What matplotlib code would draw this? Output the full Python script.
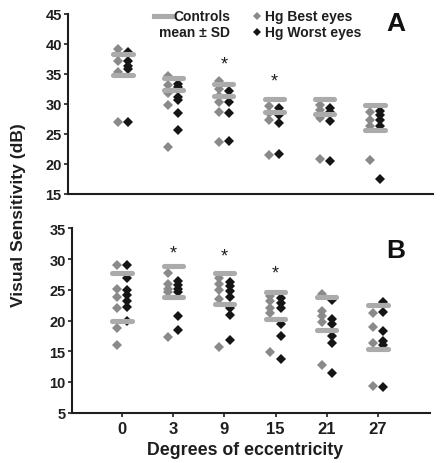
import matplotlib
matplotlib.use("Agg")
import matplotlib.pyplot as plt
from matplotlib.lines import Line2D

plt.rcParams['font.family'] = ['Liberation Sans', 'DejaVu Sans']
plt.rcParams['font.weight'] = 'bold'

categories = ["0", "3", "9", "15", "21", "27"]

# Panel A
best_A = [
    [39.2, 38.3, 37.1, 35.4, 27.0],
    [34.6, 33.2, 31.9, 29.8, 22.8],
    [33.8, 32.5, 31.4, 30.4, 28.6, 23.6],
    [29.7, 28.5, 27.4, 21.5],
    [29.8, 29.0, 27.6, 20.8],
    [28.6, 27.4, 26.3, 20.6],
]
worst_A = [
    [38.7, 37.1, 36.4, 35.8, 27.0],
    [33.4, 32.8, 31.2, 30.7, 28.5, 25.7],
    [32.2, 30.4, 28.5, 23.9],
    [29.4, 28.2, 26.9, 21.6],
    [29.4, 28.6, 27.1, 20.5],
    [28.9, 28.2, 27.4, 26.4, 17.5],
]
ctrl_hi_A = [38.3, 34.3, 33.3, 30.9, 30.8, 29.8]
ctrl_lo_A = [34.9, 32.3, 31.4, 28.6, 28.3, 25.7]
star_cols_A = [2, 3]
star_y_A = [36.7, 33.8]

# Panel B
best_B = [
    [29.0, 25.1, 23.9, 22.0, 18.8, 16.0],
    [27.7, 25.9, 25.2, 24.6, 17.3],
    [26.9, 25.9, 24.9, 23.5, 15.7],
    [24.0, 23.1, 22.1, 21.2, 14.8],
    [24.3, 21.5, 20.7, 19.8, 12.7],
    [21.3, 18.9, 16.3, 9.4],
]
worst_B = [
    [29.1, 26.9, 25.0, 24.1, 23.2, 22.2, 20.0],
    [26.5, 25.7, 25.1, 24.6, 20.7, 18.5],
    [26.3, 25.6, 24.8, 23.9, 22.0, 20.9, 16.8],
    [23.7, 22.9, 22.0, 19.4, 17.4, 13.8],
    [23.4, 20.3, 19.4, 17.4, 16.4, 11.4],
    [23.0, 21.4, 18.3, 16.7, 16.0, 9.2],
]
ctrl_hi_B = [27.7, 28.9, 27.8, 24.7, 23.8, 22.6]
ctrl_lo_B = [20.0, 23.9, 22.7, 20.2, 18.4, 15.4]
star_cols_B = [1, 2, 3]
star_y_B = [31.0, 30.5, 27.7]

W, H = 441, 464
GREY = "#8a8a8a"
BLACK = "#151515"
BAR = "#ababab"
TXT = "#1e1e1e"

fig = plt.figure(figsize=(W / 100, H / 100), dpi=100)

def px_axes(l, t, r, b):
    return fig.add_axes([l / W, 1 - b / H, (r - l) / W, (b - t) / H])

axA = px_axes(68, 15, 433, 195)
axB = px_axes(72, 229.3, 430, 413.7)

def draw(ax, best, worst, hi, lo, scols, sy):
    for i in range(len(categories)):
        ax.plot([i - 0.1] * len(best[i]), best[i], 'D', color=GREY, ms=5.5, mew=0, zorder=3)
        ax.plot([i + 0.1] * len(worst[i]), worst[i], 'D', color=BLACK, ms=5.5, mew=0, zorder=3)
        for v in (hi[i], lo[i]):
            ax.plot([i - 0.19, i + 0.19], [v, v], color=BAR, lw=3.7, solid_capstyle='round', zorder=4)
    for c, y in zip(scols, sy):
        ax.text(c, y, "*", ha='center', va='center', fontsize=13, fontweight='normal', color=TXT)
    for s in ['top', 'right']:
        ax.spines[s].set_visible(False)
    for s in ['left', 'bottom']:
        ax.spines[s].set_linewidth(1.5)
        ax.spines[s].set_color(TXT)
    ax.tick_params(axis='y', direction='out', length=3, width=1.2, labelsize=10.5, pad=1.5, colors=TXT)

draw(axA, best_A, worst_A, ctrl_hi_A, ctrl_lo_A, star_cols_A, star_y_A)
draw(axB, best_B, worst_B, ctrl_hi_B, ctrl_lo_B, star_cols_B, star_y_B)

axA.set_xlim(-1.09, 6.15)
axA.set_ylim(15, 45)
axA.set_yticks([15, 20, 25, 30, 35, 40, 45])
axA.set_xticks([])

axB.set_xlim(-0.98, 6.02)
axB.set_ylim(5, 35)
axB.set_yticks([5, 10, 15, 20, 25, 30, 35])
axB.set_xticks(range(len(categories)))
axB.set_xticklabels(categories)
axB.tick_params(axis='x', direction='out', length=3, width=1.2, labelsize=12, pad=3, colors=TXT)

fig.text(245 / W, 1 - 451 / H, "Degrees of eccentricity", ha='center', va='center',
         fontsize=12.8, fontweight='bold', color=TXT)
fig.text(19 / W, 1 - 215 / H, "Visual Sensitivity (dB)", rotation=90, ha='center', va='center',
         fontsize=12.6, fontweight='bold', color=TXT)

fig.text(396 / W, 1 - 24 / H, "A", ha='center', va='center', fontsize=19, fontweight='bold', color='#111111')
fig.text(396 / W, 1 - 251 / H, "B", ha='center', va='center', fontsize=19, fontweight='bold', color='#111111')

# legend
fig.add_artist(Line2D([154 / W, 173 / W], [1 - 17 / H, 1 - 17 / H], color=BAR, lw=3.7, transform=fig.transFigure))
fig.text(230 / W, 1 - 17 / H, "Controls", ha='right', va='center', fontsize=10, fontweight='bold', color=TXT)
fig.text(230 / W, 1 - 33 / H, "mean \u00b1 SD", ha='right', va='center', fontsize=10, fontweight='bold', color=TXT)
fig.add_artist(Line2D([257 / W], [1 - 17 / H], marker='D', color=GREY, ms=4, mew=0, transform=fig.transFigure))
fig.add_artist(Line2D([257 / W], [1 - 33 / H], marker='D', color=BLACK, ms=4, mew=0, transform=fig.transFigure))
fig.text(265 / W, 1 - 17 / H, "Hg Best eyes", ha='left', va='center', fontsize=10, fontweight='bold', color=TXT)
fig.text(265 / W, 1 - 33 / H, "Hg Worst eyes", ha='left', va='center', fontsize=10, fontweight='bold', color=TXT)

fig.savefig("out.png", dpi=100)
